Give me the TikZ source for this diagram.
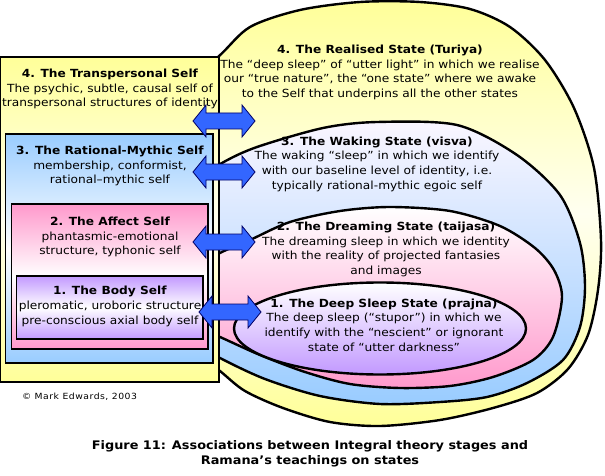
\documentclass[tikz,border=0pt]{standalone}
\usepackage{fontspec}
\setmainfont{DejaVu Sans}[FakeStretch=1.09]
\definecolor{yel}{HTML}{FFFF99}
\definecolor{yelpale}{HTML}{FFFFF0}
\definecolor{blu}{HTML}{99CCFF}
\definecolor{bluwhite}{HTML}{FAF6FF}
\definecolor{pnk}{HTML}{FF99CC}
\definecolor{pur}{HTML}{C299FF}
\definecolor{arrfill}{HTML}{3366FF}
\definecolor{arrline}{HTML}{000066}
\begin{document}
\begin{tikzpicture}[x=1pt,y=-1pt,
  ell/.style={draw=black, line width=2.4pt},
  box/.style={draw=black, line width=1.1pt},
  dblarr/.style={draw=arrline, fill=arrfill, line width=0.8pt, line join=miter},
  txt/.style={font=\fontsize{11.2}{14.7}\selectfont, align=center, inner sep=0pt},
  dblarrow/.pic={\path[dblarr] (-31,0) -- (-18,-16) -- (-18,-8) -- (18,-8) -- (18,-16) -- (31,0) -- (18,16) -- (18,8) -- (-18,8) -- (-18,16) -- cycle;}
]
\fill[white] (0,0) rectangle (605,476);
\useasboundingbox (0,0) rectangle (605,476);
% state ellipses
\draw[ell, top color=yel, bottom color=yel, middle color=yelpale] plot[smooth cycle] coordinates {
 (218,57) (250,27) (300,10) (360,2) (420,2) (470,9) (510,27) (545,60) (574,108) (594,168) (601,240) (598,290) (588,335) (568,369) (537,393) (493,408) (440,420) (380,426) (330,422) (283,408) (245,391) (220,371) (188,345) (160,214) (170,97)};
\draw[ell, top color=bluwhite, bottom color=blu] plot[smooth cycle] coordinates {
 (222,163) (257,147) (323,128) (377,122) (457,125) (517,155) (560,195) (580,243) (585,287) (580,327) (563,360) (527,383) (487,397) (440,402) (380,404) (320,396) (265,379) (220,358) (190,340) (175,265) (190,185)};
\draw[ell, top color=white, bottom color=pnk] plot[smooth cycle] coordinates {
 (220,253) (250,240) (290,222) (340,211) (390,207) (450,211) (500,226) (535,248) (554,270) (562,297) (553,337) (533,360) (493,377) (450,386) (400,388) (350,384) (305,372) (260,355) (220,337) (185,322) (190,272)};
\draw[ell, top color=white, bottom color=pur] (380,328.5) ellipse [x radius=146pt, y radius=46pt];
% stage boxes
\draw[box, top color=yel, bottom color=yel, middle color=yelpale] (0.6,57) rectangle (219,382);
\draw[box, top color=blu, bottom color=blu, middle color=white] (5.5,134) rectangle (213,363);
\draw[box, top color=pnk, bottom color=pnk, middle color=white] (11.5,204) rectangle (208,349);
\draw[box, top color=pur, bottom color=pur, middle color=white] (16.5,276) rectangle (203,339);
% arrows
\pic (a4) at (224,121) {dblarrow};
\pic (a3) at (224,172) {dblarrow};
\pic (a2) at (224,242) {dblarrow};
\pic (a1) at (230,312) {dblarrow};
% stage texts
\node[txt] (t4) at (110,89) {\textbf{4. The Transpersonal Self}\\The psychic, subtle, causal self of\\transpersonal structures of identity};
\node[txt] (t3) at (110,166) {\textbf{3. The Rational-Mythic Self}\\membership, conformist,\\rational–mythic self};
\node[txt] (t2) at (110,237) {\textbf{2. The Affect Self}\\phantasmic-emotional\\structure, typhonic self};
\node[txt] (t1) at (110,306.5) {\textbf{1. The Body Self}\\pleromatic, uroboric structure\\pre-conscious axial body self};
% state texts
\node[txt] (s4) at (380,72.5) {\textbf{4. The Realised State (Turiya)}\\The “deep sleep” of “utter light” in which we realise\\our “true nature”, the “one state” where we awake\\to the Self that underpins all the other states};
\node[txt] (s3) at (377,164) {\textbf{3. The Waking State (visva)}\\The waking “sleep” in which we identify\\with our baseline level of identity, i.e.\\typically rational-mythic egoic self};
\node[txt] (s2) at (386,249.5) {\textbf{2. The Dreaming State (taijasa)}\\The dreaming sleep in which we identity\\with the reality of projected fantasies\\and images};
\node[txt] (s1) at (384,325) {\textbf{1. The Deep Sleep State (prajna)}\\The deep sleep (“stupor”) in which we\\identify with the “nescient” or ignorant\\state of “utter darkness”};
% credits and caption
\node[inner sep=0pt, font=\fontsize{8.5}{10}\selectfont\addfontfeature{LetterSpace=6}] (cr) at (79.5,397) {© Mark Edwards, 2003};
\node[txt, font=\bfseries\fontsize{11.8}{15}\selectfont] (cap) at (310,453.5) {Figure 11: Associations between Integral theory stages and\\Ramana’s teachings on states};
\end{tikzpicture}
\end{document}
